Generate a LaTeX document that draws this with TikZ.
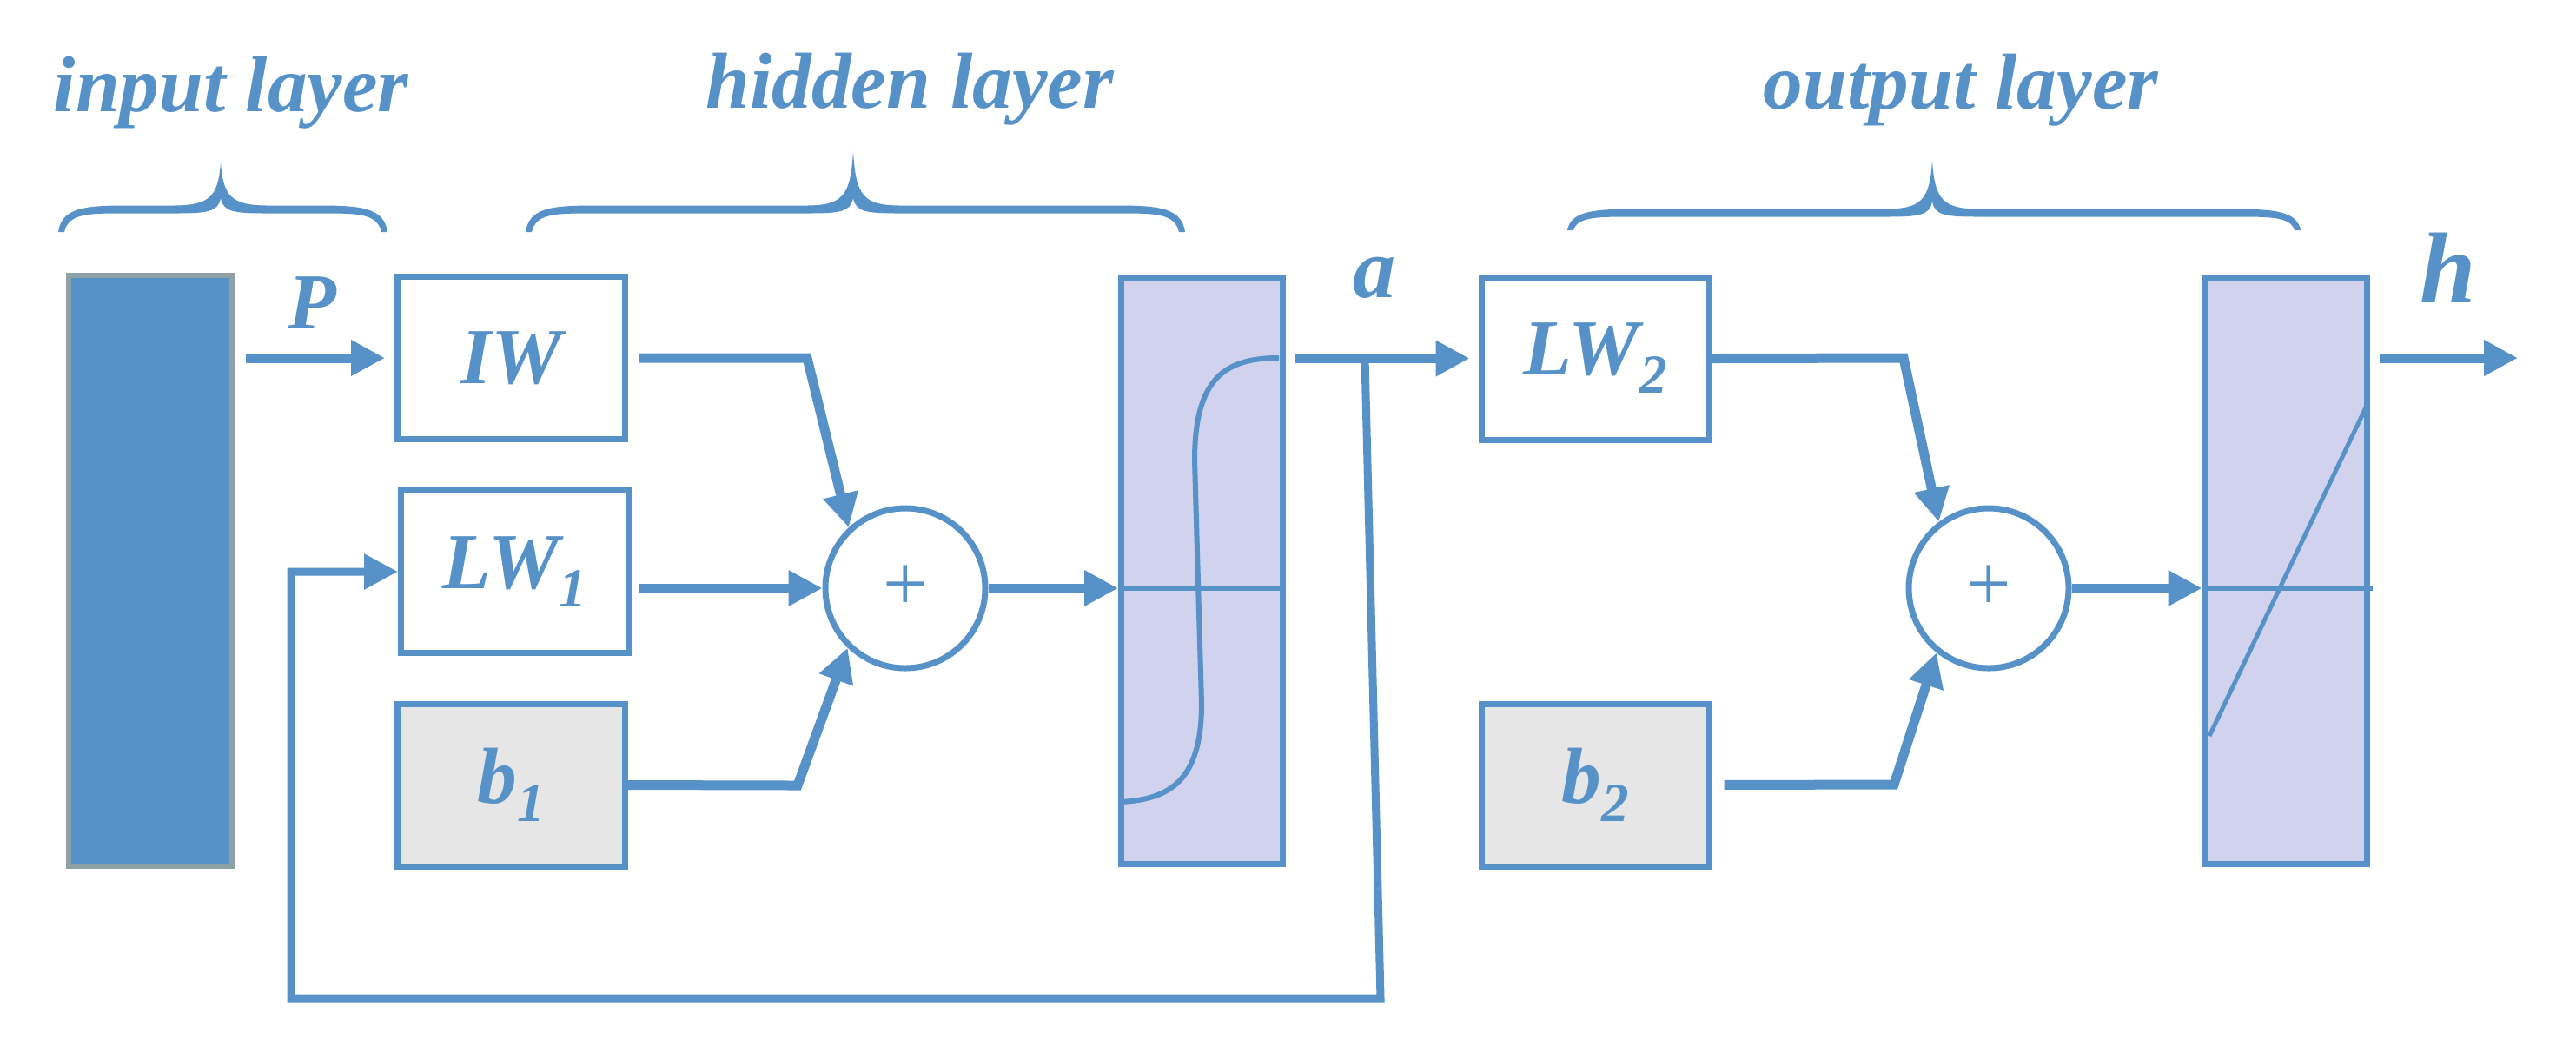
\documentclass[tikz,border=0pt]{standalone}
\usepackage{fontspec}
\setmainfont{Liberation Serif}
\usepackage{xcolor}
\usepackage{tikz}
\usetikzlibrary{arrows.meta}
\definecolor{azul}{HTML}{5691C8}
\definecolor{lila}{HTML}{D0D2EE}
\definecolor{gris}{HTML}{E6E6E6}
\definecolor{grisverde}{HTML}{8EA2A6}
\newcommand{\indice}[1]{\raisebox{-0.21cm}{\fontsize{18}{18}\selectfont #1}}

\begin{document}
\begin{tikzpicture}[
  caja/.style={draw=azul, line width=0.07cm, minimum width=2.62cm, minimum height=1.87cm,
               inner sep=0pt, text=azul, font=\fontsize{26}{30}\selectfont\bfseries\itshape},
  capa/.style={draw=azul, line width=0.07cm, fill=lila, minimum width=1.86cm, minimum height=6.75cm},
  sumador/.style={circle, draw=azul, line width=0.07cm, minimum size=1.84cm, inner sep=0pt,
                  text=azul, font=\fontsize{26}{30}\selectfont},
  etiqueta/.style={anchor=base, inner sep=0pt, text=azul, font=\fontsize{26}{30}\selectfont\bfseries\itshape},
  flecha/.style={-{Triangle[length=0.39cm, width=0.39cm]}, line width=0.11cm, azul},
  linea/.style={line width=0.06cm, azul}]
\useasboundingbox (0,0) rectangle (29.65,-12.11);
% llaves de las capas
\foreach \xl/\xm/\xr/\yb/\yt/\ye in {0.67/2.54/4.46/-2.41/-1.87/-2.67,
                                     6.05/9.82/13.64/-2.41/-1.74/-2.67,
                                     18.04/22.24/26.48/-2.45/-1.85/-2.65}
  \fill[azul] (\xl,\ye) .. controls (\xl+0.04,\yb+0.02) and (\xl+0.3,\yb+0.045) .. (\xl+0.8,\yb+0.045)
    -- (\xm-0.55,\yb+0.045) .. controls (\xm-0.12,\yb+0.045) and (\xm-0.03,\yb+0.15) .. (\xm,\yt)
    .. controls (\xm+0.03,\yb+0.15) and (\xm+0.12,\yb+0.045) .. (\xm+0.55,\yb+0.045)
    -- (\xr-0.8,\yb+0.045) .. controls (\xr-0.3,\yb+0.045) and (\xr-0.04,\yb+0.02) .. (\xr,\ye)
    -- (\xr-0.07,\ye) .. controls (\xr-0.12,\yb-0.04) and (\xr-0.35,\yb-0.045) .. (\xr-0.8,\yb-0.045)
    -- (\xm+0.55,\yb-0.045) .. controls (\xm+0.15,\yb-0.045) and (\xm+0.03,\yb-0.03) .. (\xm,\yb+0.13)
    .. controls (\xm-0.03,\yb-0.03) and (\xm-0.15,\yb-0.045) .. (\xm-0.55,\yb-0.045)
    -- (\xl+0.8,\yb-0.045) .. controls (\xl+0.35,\yb-0.045) and (\xl+0.12,\yb-0.04) .. (\xl+0.07,\ye) -- cycle;
\node[etiqueta] (tin)  at (2.66,-1.28)  {input layer};
\node[etiqueta] (thid) at (10.47,-1.24) {hidden layer};
\node[etiqueta] (tout) at (22.57,-1.25) {output layer};
% bloques
\node[draw=grisverde, line width=0.06cm, fill=azul, minimum width=1.88cm, minimum height=6.8cm] (entrada) at (1.73,-6.57) {};
\node[caja] (IW)  at (5.885,-4.12) {IW};
\node[caja] (LW1) at (5.925,-6.58) {LW\indice{1}};
\node[caja, fill=gris] (b1) at (5.885,-9.035) {b\indice{1}};
\node[sumador] (suma1) at (10.42,-6.77) {+};
\node[capa] (sig) at (13.835,-6.57) {};
\node[caja] (LW2) at (18.36,-4.125) {LW\indice{2}};
\node[caja, fill=gris] (b2) at (18.36,-9.035) {b\indice{2}};
\node[sumador] (suma2) at (22.89,-6.77) {+};
\node[capa] (lin) at (26.31,-6.57) {};
% funciones de transferencia
\draw[linea] (sig.west |- suma1) -- (sig.east |- suma1);
\draw[linea] (12.90,-9.23) .. controls (13.45,-9.20) and (13.83,-9.0) .. (13.83,-8.1)
  -- (13.75,-5.3) .. controls (13.75,-4.35) and (14.1,-4.12) .. (14.72,-4.12);
\draw[linea] (lin.west |- suma2) -- ([xshift=0.03cm]lin.east |- suma2);
\draw[linea, line width=0.05cm] (25.43,-8.47) -- (27.24,-4.67);
% conexiones
\node[etiqueta] (P) at (3.59,-3.78) {P};
\draw[flecha, shorten <=0.13cm, shorten >=0.11cm] (entrada.east |- IW.west) -- (IW.west);
\draw[flecha, shorten <=0.13cm] (IW.east) -- (9.29,-4.12) -- (suma1.133);
\draw[flecha, shorten <=0.09cm] (LW1.east |- suma1.west) -- (suma1.west);
\draw[flecha] (b1.east) -- (9.18,-9.04) -- (suma1.226);
\draw[flecha] (suma1.east) -- (suma1.east -| sig.west);
\node[etiqueta, font=\fontsize{28}{30}\selectfont\bfseries\itshape] (a) at (15.82,-3.42) {a};
\draw[flecha, shorten <=0.1cm, shorten >=0.1cm] (sig.east |- LW2.west) -- (LW2.west);
\coordinate (rama) at (15.71,-4.12);
\coordinate (esquina) at (3.35,-11.49);
\draw[flecha, line width=0.09cm] (rama) -- (15.89,-11.49) -- (esquina) |- (LW1.west);
\draw[flecha] (LW2.east) -- (21.91,-4.12) -- (suma2.127);
\draw[flecha, shorten <=0.14cm] (b2.east) -- (21.80,-9.03) -- (suma2.231);
\draw[flecha] (suma2.east) -- (suma2.east -| lin.west);
\node[etiqueta, font=\fontsize{33}{36}\selectfont\bfseries\itshape] (h) at (28.18,-3.48) {h};
\coordinate (salida) at (28.98,-4.12);
\draw[flecha, shorten <=0.11cm] (lin.east |- salida) -- (salida);
\end{tikzpicture}
\end{document}
